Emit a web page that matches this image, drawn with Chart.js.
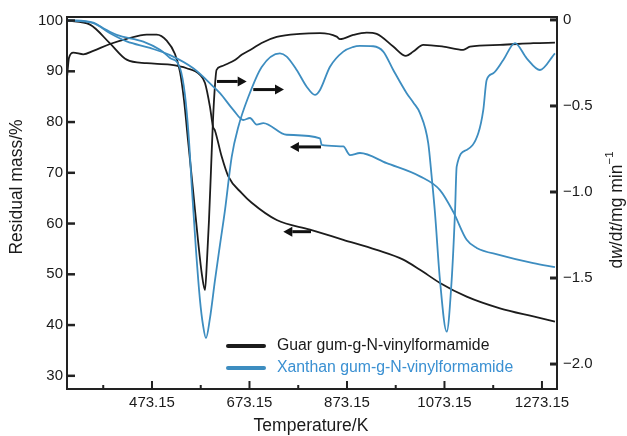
<!DOCTYPE html>
<html><head><meta charset="utf-8">
<script src="https://cdn.jsdelivr.net/npm/chart.js@4.4.1/dist/chart.umd.min.js"></script>
<style>html,body{margin:0;padding:0;background:#fff}#wrap{width:627px;height:436px}</style>
</head><body><div id="wrap"><canvas id="c" width="627" height="436"></canvas></div>
<script>
// ---- tick values ----
const temperatureTicks = [473.15, 673.15, 873.15, 1073.15, 1273.15];
const temperatureMinorTicks = [373.15, 573.15, 773.15, 973.15, 1173.15];
const residualMassTicks = [30, 40, 50, 60, 70, 80, 90, 100];
const dwdtTicks = [0, -0.5, -1.0, -1.5, -2.0];

// ---- series names ----
const guarName = 'Guar gum-g-N-vinylformamide';
const xanthanName = 'Xanthan gum-g-N-vinylformamide';

// ---- Guar gum TG (residual mass, %) ----
const guarTGTemp = [299, 346.0, 387.0, 421.2, 462.3, 510.1, 544.3, 571.6, 581.9, 592.1, 598.3, 602.4, 616.1, 629.7, 657.2, 677.7, 729.0, 797.3, 865.6, 934.1, 988.6, 1022.9, 1063.9, 1118.7, 1187.0, 1255.4, 1299.8];
const guarTGMass = [100, 99.2, 95.5, 92.3, 91.6, 91.3, 90.6, 89.3, 87.7, 83.0, 79.1, 78.3, 73.2, 69.3, 66.0, 64.1, 60.7, 58.8, 56.8, 54.8, 52.9, 50.9, 48.3, 45.6, 43.3, 41.7, 40.7];

// ---- Guar gum DTG (dw/dt, mg/min) ----
const guarDTGTemp = [299, 302.9, 311.7, 332.2, 352.7, 387.0, 421.2, 462.3, 482.8, 503.3, 520.3, 530.6, 538.8, 547.0, 557.3, 567.5, 575.7, 581.9, 586.0, 590.1, 594.2, 598.3, 602.4, 605.5, 615, 627, 643.4, 657, 678, 698, 729, 776.7, 817.8, 852.0, 858.8, 886.1, 913.6, 934.1, 968.1, 994.2, 1009.2, 1029.7, 1070.7, 1111.7, 1125.5, 1187, 1255.4, 1299.8];
const guarDTGRate = [-0.33, -0.22, -0.19, -0.20, -0.18, -0.14, -0.11, -0.085, -0.085, -0.12, -0.198, -0.302, -0.465, -0.698, -0.988, -1.279, -1.483, -1.570, -1.395, -1.163, -0.872, -0.581, -0.378, -0.291, -0.270, -0.256, -0.233, -0.203, -0.169, -0.134, -0.099, -0.081, -0.077, -0.097, -0.112, -0.087, -0.074, -0.081, -0.155, -0.209, -0.184, -0.145, -0.155, -0.174, -0.155, -0.145, -0.135, -0.132];

// ---- Xanthan gum TG (residual mass, %) ----
const xanthanTGTemp = [299, 352.7, 387.0, 421.2, 469.0, 510.1, 557.9, 598.9, 612.6, 639.9, 660.4, 674.2, 687.9, 701.5, 749.5, 817.8, 821.3, 865.6, 879.3, 899.8, 954.6, 1022.9, 1063.9, 1091.2, 1118.7, 1139.2, 1187.0, 1255.4, 1299.8];
const xanthanTGMass = [100, 99.5, 97.5, 95.9, 94.6, 93.2, 90.6, 87.0, 85.7, 82.4, 80.4, 80.8, 79.5, 79.8, 77.5, 76.8, 75.5, 75.2, 73.5, 73.9, 71.9, 69.3, 66.6, 62.3, 56.8, 55.2, 53.8, 52.2, 51.4];

// ---- Xanthan gum DTG (dw/dt, mg/min) ----
const xanthanDTGTemp = [299, 352.7, 373.3, 400.7, 455.3, 489.6, 510.1, 530.6, 540.8, 549.0, 555.2, 563.4, 571.6, 577.8, 583.9, 592.1, 602.4, 612.6, 622.9, 636.6, 650.2, 670.7, 698.2, 735.7, 749.5, 770.0, 790.5, 807.5, 817.8, 838.3, 865.6, 885, 899.8, 927.1, 947.6, 968.1, 995.6, 1009.2, 1022.9, 1039.9, 1046.9, 1053.7, 1063.9, 1077.7, 1087.9, 1094.7, 1098.2, 1118.7, 1142.5, 1152.8, 1159.7, 1173.3, 1193.8, 1217.8, 1241.8, 1269.0, 1299.8];
const xanthanDTGRate = [0, -0.016, -0.048, -0.087, -0.126, -0.174, -0.221, -0.279, -0.436, -0.698, -0.988, -1.337, -1.628, -1.773, -1.849, -1.733, -1.512, -1.308, -1.105, -0.797, -0.622, -0.448, -0.273, -0.194, -0.213, -0.291, -0.388, -0.436, -0.407, -0.272, -0.184, -0.158, -0.151, -0.153, -0.184, -0.291, -0.426, -0.48, -0.542, -0.717, -0.911, -1.122, -1.512, -1.812, -1.512, -1.122, -0.853, -0.756, -0.659, -0.523, -0.349, -0.310, -0.233, -0.135, -0.223, -0.291, -0.194];

// ---- arrow annotations (data coordinates: K, residual mass %) ----
const arrowFromTemp = [606.5, 680.9, 819.8, 799.3];
const arrowToTemp   = [667.4, 743.9, 756.2, 742.5];
const arrowMass     = [88.0, 86.4, 75.1, 58.4];

const BLACK = '#1c1c1c';
const BLUE = '#3d8dc0';
const BLUE_TEXT = '#3a90d2';
const FONT = '"Liberation Sans", Arial, Helvetica, sans-serif';

const pts = (xs, ys) => xs.map((x, i) => ({x, y: ys[i]}));

const annot = {
  id: 'annot',
  afterDraw(chart) {
    const {ctx, chartArea: a, scales: {x, yL, yR}} = chart;
    ctx.save();
    ctx.strokeStyle = '#222';
    ctx.lineWidth = 2;
    ctx.strokeRect(a.left, a.top, a.right - a.left, a.bottom - a.top);
    // left ticks (inward)
    ctx.lineWidth = 2.5;
    residualMassTicks.forEach(v => {
      const y = yL.getPixelForValue(v);
      ctx.beginPath(); ctx.moveTo(a.left, y); ctx.lineTo(a.left + 8, y); ctx.stroke();
    });
    // right ticks
    ctx.lineWidth = 3;
    dwdtTicks.forEach(v => {
      const y = yR.getPixelForValue(v);
      ctx.beginPath(); ctx.moveTo(a.right, y); ctx.lineTo(a.right - 7, y); ctx.stroke();
    });
    // x ticks
    ctx.lineWidth = 2;
    temperatureTicks.forEach(v => {
      const px = x.getPixelForValue(v);
      ctx.beginPath(); ctx.moveTo(px, a.bottom); ctx.lineTo(px, a.bottom - 8); ctx.stroke();
    });
    temperatureMinorTicks.forEach(v => {
      const px = x.getPixelForValue(v);
      ctx.beginPath(); ctx.moveTo(px, a.bottom); ctx.lineTo(px, a.bottom - 4); ctx.stroke();
    });

    // arrows
    ctx.strokeStyle = '#111'; ctx.fillStyle = '#111';
    arrowFromTemp.forEach((t0, i) => {
      const x0 = x.getPixelForValue(t0), x1 = x.getPixelForValue(arrowToTemp[i]);
      const y = yL.getPixelForValue(arrowMass[i]);
      const dir = Math.sign(x1 - x0);
      const hl = 9, hw = 5;
      ctx.lineWidth = 3;
      ctx.beginPath(); ctx.moveTo(x0, y); ctx.lineTo(x1 - dir * hl, y); ctx.stroke();
      ctx.beginPath(); ctx.moveTo(x1, y); ctx.lineTo(x1 - dir * hl, y - hw); ctx.lineTo(x1 - dir * hl, y + hw); ctx.closePath(); ctx.fill();
    });

    // legend
    const legend = [{name: guarName, line: BLACK, text: '#1a1a1a'}, {name: xanthanName, line: BLUE, text: BLUE_TEXT}];
    ctx.font = '15.8px ' + FONT;
    ctx.textBaseline = 'middle'; ctx.textAlign = 'left';
    legend.forEach((e, i) => {
      const y = a.bottom - 43 + i * 22;
      ctx.strokeStyle = e.line; ctx.lineWidth = 4; ctx.lineCap = 'round';
      ctx.beginPath(); ctx.moveTo(a.left + 161, y); ctx.lineTo(a.left + 197, y); ctx.stroke();
      ctx.fillStyle = e.text;
      ctx.fillText(e.name, a.left + 210, y);
    });
    ctx.lineCap = 'butt';

    // axis titles
    ctx.fillStyle = '#1a1a1a';
    ctx.font = '17.5px ' + FONT;
    ctx.textAlign = 'center'; ctx.textBaseline = 'middle';
    ctx.fillText('Temperature/K', 311, 426);
    ctx.save();
    ctx.translate(17.5, 187); ctx.rotate(-Math.PI / 2);
    ctx.fillText('Residual mass/%', 0, 0);
    ctx.restore();

    // right title with italics and superscript
    const segs = [
      {t: 'd', f: '17.5px ' + FONT, dy: 0},
      {t: 'w', f: 'italic 17.5px ' + FONT, dy: 0},
      {t: '/d', f: '17.5px ' + FONT, dy: 0},
      {t: 't', f: 'italic 17.5px ' + FONT, dy: 0},
      {t: '/mg min', f: '17.5px ' + FONT, dy: 0},
      {t: '\u22121', f: '11.5px ' + FONT, dy: -7}
    ];
    let total = 0;
    segs.forEach(s => { ctx.font = s.f; s.w = ctx.measureText(s.t).width; total += s.w; });
    ctx.save();
    ctx.translate(617, 210); ctx.rotate(-Math.PI / 2);
    ctx.textAlign = 'left';
    let cx = -total / 2;
    segs.forEach(s => { ctx.font = s.f; ctx.fillText(s.t, cx, s.dy); cx += s.w; });
    ctx.restore();
    ctx.restore();
  }
};

const lineDs = (label, data, color, axis) => ({
  label, data, yAxisID: axis, borderColor: color, borderWidth: 1.8,
  pointRadius: 0, fill: false, cubicInterpolationMode: 'monotone'
});

new Chart(document.getElementById('c'), {
  type: 'line',
  data: {
    datasets: [
      lineDs(xanthanName + ' TG', pts(xanthanTGTemp, xanthanTGMass), BLUE, 'yL'),
      lineDs(xanthanName + ' DTG', pts(xanthanDTGTemp, xanthanDTGRate), BLUE, 'yR'),
      lineDs(guarName + ' TG', pts(guarTGTemp, guarTGMass), BLACK, 'yL'),
      lineDs(guarName + ' DTG', pts(guarDTGTemp, guarDTGRate), BLACK, 'yR')
    ]
  },
  options: {
    responsive: false, animation: false, devicePixelRatio: 1,
    layout: {padding: {top: 17, left: 0, right: 0, bottom: 0}},
    plugins: {legend: {display: false}, tooltip: {enabled: false}},
    scales: {
      x: {
        type: 'linear', position: 'bottom', min: 298.8, max: 1304,
        grid: {display: false, drawTicks: false}, border: {display: false},
        afterBuildTicks: s => { s.ticks = temperatureTicks.map(v => ({value: v})); },
        afterFit: s => { s.height = 47; },
        ticks: {font: {family: FONT, size: 15}, color: '#1a1a1a', padding: 5, maxRotation: 0, autoSkip: false,
          callback: v => v.toFixed(2)}
      },
      yL: {
        type: 'linear', position: 'left', min: 27.4, max: 100.7,
        grid: {display: false, drawTicks: false}, border: {display: false},
        afterBuildTicks: s => { s.ticks = residualMassTicks.map(v => ({value: v})); },
        afterFit: s => { s.width = 67; },
        ticks: {font: {family: FONT, size: 15}, color: '#1a1a1a', padding: 4, autoSkip: false,
          callback: v => String(v)}
      },
      yR: {
        type: 'linear', position: 'right', min: -2.145, max: 0.017,
        grid: {display: false, drawTicks: false}, border: {display: false},
        afterBuildTicks: s => { s.ticks = dwdtTicks.map(v => ({value: v})); },
        afterFit: s => { s.width = 70; },
        ticks: {font: {family: FONT, size: 15}, color: '#1a1a1a', padding: 6, autoSkip: false,
          callback: v => v === 0 ? '0' : '\u2212' + Math.abs(v).toFixed(1)}
      }
    }
  },
  plugins: [annot]
});
</script>
</body></html>
